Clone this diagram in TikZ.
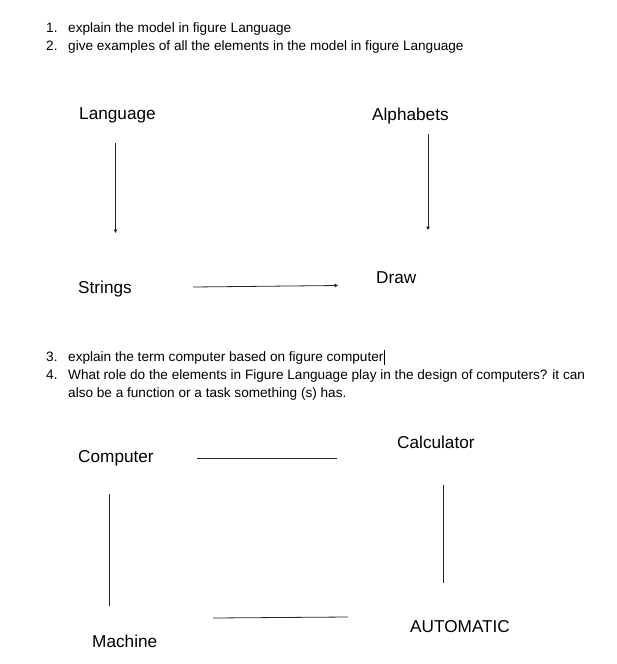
\documentclass[tikz,border=0pt]{standalone}
\usepackage{fontspec}
\setmainfont{Liberation Sans}
\usetikzlibrary{arrows.meta}
\tikzset{
  qtext/.style={anchor=base west, inner sep=0pt, text=black, font=\fontsize{13.6}{16}\selectfont},
  lbl/.style={anchor=base west, inner sep=0pt, text=black, font=\fontsize{17.2}{20}\selectfont},
  conn/.style={draw=black!85, line width=0.8pt},
  arr/.style={conn, -{Triangle[length=3.5pt,width=3.5pt]}},
}
\begin{document}
\begin{tikzpicture}[x=1pt,y=-1pt]
\useasboundingbox (0,0) rectangle (616,664);
% questions 1-2
\node[qtext] (n1) at (46,32) {1.};
\node[qtext] (q1) at (68,32) {explain the model in figure Language};
\node[qtext] (n2) at (46,50) {2.};
\node[qtext] (q2) at (68,50) {give examples of all the elements in the model in figure Language};
% figure Language
\node[lbl] (lang) at (79,119) {Language};
\node[lbl] (alph) at (372,120) {Alphabets};
\node[lbl] (str) at (78,293) {Strings};
\node[lbl] (draw) at (376,283) {Draw};
\coordinate (a1s) at (115.5,143);
\coordinate (a1e) at (115.5,233);
\coordinate (a2s) at (428,134);
\coordinate (a2e) at (428,230);
\coordinate (a3s) at (193,287);
\coordinate (a3e) at (338,285.5);
\draw[arr] (a1s) -- (a1e);
\draw[arr] (a2s) -- (a2e);
\draw[arr] (a3s) -- (a3e);
% questions 3-4
\node[qtext] (n3) at (46,361) {3.};
\node[qtext] (q3) at (68,361) {explain the term computer based on figure computer};
\coordinate (cur1) at ([xshift=1.2pt,yshift=-3.5pt]q3.base east);
\coordinate (cur2) at ([xshift=1.2pt,yshift=11pt]q3.base east);
\draw[line width=1.3pt, black] (cur1) -- (cur2);
\node[qtext] (n4) at (46,379) {4.};
\node[qtext] (q4) at (68,379) {What role do the elements in Figure Language play in the design of computers? it can};
\node[qtext] (q4b) at (68,397) {also be a function or a task something (s) has.};
% figure computer
\node[lbl] (comp) at (78,462) {Computer};
\node[lbl] (calc) at (397,448) {Calculator};
\node[lbl] (mach) at (92,647) {Machine};
\node[lbl] (auto) at (410,632) {AUTOMATIC};
\coordinate (l1s) at (197,458);
\coordinate (l1e) at (337,458);
\coordinate (l2s) at (109,494);
\coordinate (l2e) at (109,606);
\coordinate (l3s) at (443,485);
\coordinate (l3e) at (443,583);
\coordinate (l4s) at (213,618);
\coordinate (l4e) at (348,617);
\draw[conn] (l1s) -- (l1e);
\draw[conn] (l2s) -- (l2e);
\draw[conn] (l3s) -- (l3e);
\draw[conn] (l4s) -- (l4e);
\end{tikzpicture}
\end{document}
